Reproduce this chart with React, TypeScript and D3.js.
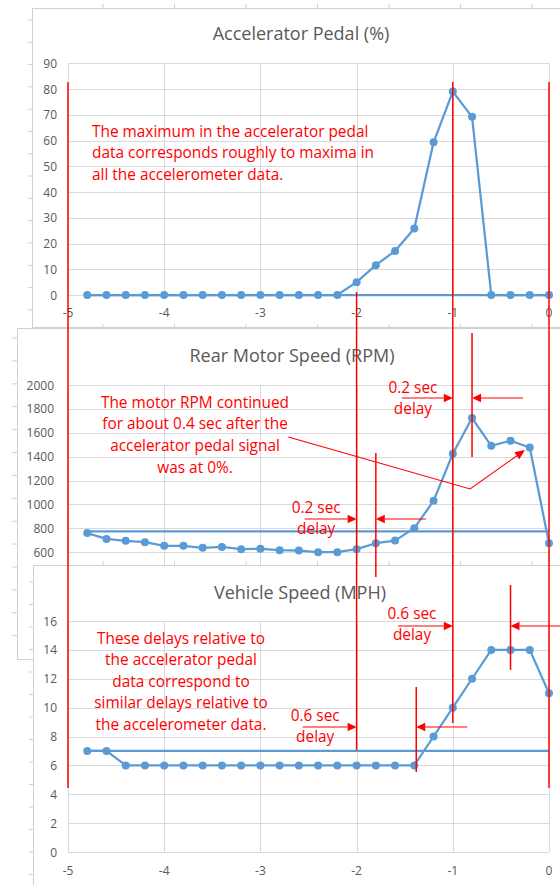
import React from 'react';
import * as d3 from 'd3';

// ---------- data ----------
const times = [-4.8, -4.6, -4.4, -4.2, -4.0, -3.8, -3.6, -3.4, -3.2, -3.0, -2.8, -2.6, -2.4, -2.2, -2.0, -1.8, -1.6, -1.4, -1.2, -1.0, -0.8, -0.6, -0.4, -0.2, 0];
const pedalValues = [0, 0, 0, 0, 0, 0, 0, 0, 0, 0, 0, 0, 0, 0, 5, 11.6, 17.1, 25.8, 59.3, 79, 69.2, 0, 0, 0, 0];
const rpmValues = [760, 711, 695, 684, 653, 653, 636, 644, 625, 628, 617, 613, 600, 600, 625, 675, 697, 801, 1030, 1424, 1723, 1491, 1533, 1477, 675];
const mphValues = [7, 7, 6, 6, 6, 6, 6, 6, 6, 6, 6, 6, 6, 6, 6, 6, 6, 6, 8, 10, 12, 14, 14, 14, 11];
const pedalReference = 0;
const rpmReference = 775;
const mphReference = 7;

const xTickValues = [-5, -4, -3, -2, -1, 0];
const pedalTicks = [0, 10, 20, 30, 40, 50, 60, 70, 80, 90];
const rpmTicks = [0, 200, 400, 600, 800, 1000, 1200, 1400, 1600, 1800, 2000];
const rpmLabelTicks = [600, 800, 1000, 1200, 1400, 1600, 1800, 2000];
const mphTicks = [0, 2, 4, 6, 8, 10, 12, 14, 16];

const titles = ['Accelerator Pedal (%)', 'Rear Motor Speed (RPM)', 'Vehicle Speed (MPH)'];
const note1 = ['The maximum in the accelerator pedal', 'data corresponds roughly to maxima in', 'all the accelerometer data.'];
const note2 = ['The motor RPM continued', 'for about 0.4 sec after the', 'accelerator pedal signal', 'was at 0%.'];
const note3 = ['These delays relative to', 'the accelerator pedal', 'data correspond to', 'similar delays relative to', 'the accelerometer data.'];

// annotation markers (time in seconds)
const markerLines = [
  { t: -5, y1: 82, y2: 788 },
  { t: -2, y1: 292, y2: 750 },
  { t: -1, y1: 82, y2: 723 },
  { t: 0, y1: 82, y2: 788 },
  { t: -0.8, y1: 333, y2: 457 },
  { t: -1.8, y1: 453, y2: 577 },
  { t: -1.38, y1: 687, y2: 772 },
  { t: -0.4, y1: 585, y2: 670 },
];
const delayArrows = [
  { from: -1.53, to: -1, y: 398 },
  { from: -0.27, to: -0.8, y: 398 },
  { from: -2.54, to: -2, y: 519 },
  { from: -1.28, to: -1.8, y: 519 },
  { from: -1.57, to: -1, y: 626 },
  { from: 0.14, to: -0.4, y: 626 },
  { from: -2.56, to: -2, y: 727 },
  { from: -0.85, to: -1.38, y: 727 },
];
const delayLabels = [
  { t: -1.414, y: 387, a: '0.2 sec', b: 'delay' },
  { t: -2.42, y: 507, a: '0.2 sec', b: 'delay' },
  { t: -1.424, y: 613, a: '0.6 sec', b: 'delay' },
  { t: -2.43, y: 715, a: '0.6 sec', b: 'delay' },
];
const callout = [
  { t: -2.71, y: 437 },
  { t: -0.82, y: 489 },
  { t: -0.25, y: 450 },
];

// ---------- style ----------
const BLUE = '#5b9bd5';
const GRID = '#d9d9d9';
const FRAME = '#d0d0d0';
const TEXT = '#595959';
const RED = '#ff0000';
const FONT = "'Open Sans', 'Noto Sans', sans-serif";

const x = d3.scaleLinear().domain([-5, 0]).range([68, 549]);

function Frame({ left, top, bottom, tickStart, tickStep, tickLen }: any) {
  const leftTicks = d3.range(14).map((k) => tickStart + k * tickStep);
  const topTicks = d3.range(7).map((k) => 103 + k * 71.5);
  return (
    <g>
      <rect x={left + 0.5} y={top + 0.5} width={620} height={bottom - top} fill="#fff" stroke={FRAME} strokeWidth={1} />
      {leftTicks.map((ty, i) => (
        <line key={'l' + i} x1={left - tickLen} x2={left + 0.5} y1={ty} y2={ty} stroke={FRAME} />
      ))}
      {topTicks.map((tx, i) => (
        <line key={'t' + i} x1={tx} x2={tx} y1={top - 4} y2={top + 0.5} stroke={FRAME} />
      ))}
    </g>
  );
}

function Chart({ y, ticks, labelTicks, values, reference, title, titleX, titleY, labelRight, xLabelY }: any) {
  const [dMin, dMax] = y.domain();
  const top = y(dMax);
  const bottom = y(dMin);
  const line = d3
    .line<number>()
    .x((_, i) => x(times[i]))
    .y((d) => y(d));
  const refLine = d3
    .line<number>()
    .x((d) => x(d))
    .y(() => y(reference));
  return (
    <g>
      <text x={titleX} y={titleY} textAnchor="middle" dominantBaseline="central" fontFamily={FONT} fontSize={18} fill={TEXT}>
        {title}
      </text>
      {ticks.map((v: number) => (
        <line key={'h' + v} x1={x(-5)} x2={x(0)} y1={Math.round(y(v)) + 0.5} y2={Math.round(y(v)) + 0.5} stroke={GRID} strokeWidth={1} />
      ))}
      {xTickValues.map((v) => (
        <line key={'v' + v} x1={Math.round(x(v)) + 0.5} x2={Math.round(x(v)) + 0.5} y1={top} y2={bottom} stroke={GRID} strokeWidth={1} />
      ))}
      {(labelTicks || ticks).map((v: number) => (
        <text key={'yl' + v} x={labelRight} y={y(v)} textAnchor="end" dominantBaseline="central" fontFamily={FONT} fontSize={12} fill={TEXT}>
          {v}
        </text>
      ))}
      {xLabelY != null &&
        xTickValues.map((v) => (
          <text key={'xl' + v} x={x(v)} y={xLabelY} textAnchor="middle" dominantBaseline="central" fontFamily={FONT} fontSize={12} fill={TEXT}>
            {v}
          </text>
        ))}
      <path d={refLine([times[0], times[times.length - 1]]) || ''} fill="none" stroke={BLUE} strokeWidth={2.25} />
      <path d={line(values) || ''} fill="none" stroke={BLUE} strokeWidth={2.25} strokeLinejoin="round" />
      {values.map((v: number, i: number) => (
        <circle key={'m' + i} cx={x(times[i])} cy={y(v)} r={4} fill={BLUE} />
      ))}
    </g>
  );
}

function Arrow({ x1, x2, y }: any) {
  const dir = x2 > x1 ? 1 : -1;
  const len = 9;
  const hw = 4.2;
  const tip = x2;
  const base = x2 - dir * len;
  return (
    <g>
      <line x1={x1} x2={base} y1={y} y2={y} stroke={RED} strokeWidth={1.2} />
      <polygon points={`${tip},${y} ${base},${y - hw} ${base},${y + hw}`} fill={RED} />
    </g>
  );
}

export default function App() {
  const yPedal = d3.scaleLinear().domain([0, 90]).range([295, 63.3]);
  const yRpm = d3.scaleLinear().domain([0, 2000]).range([623.8, 385]);
  const yMph = d3.scaleLinear().domain([0, 16]).range([852, 621]);

  const last = callout[callout.length - 1];
  const prev = callout[callout.length - 2];
  const ang = Math.atan2(last.y - prev.y, x(last.t) - x(prev.t));
  const tipX = x(last.t);
  const tipY = last.y;
  const hl = 10;
  const hw = 4.2;
  const bx = tipX - hl * Math.cos(ang);
  const by = tipY - hl * Math.sin(ang);
  const px = -Math.sin(ang) * hw;
  const py = Math.cos(ang) * hw;

  return (
    <svg width={560} height={885} style={{ position: 'absolute', left: 0, top: 0, background: '#fff' }} xmlns="http://www.w3.org/2000/svg">
      <rect x={0} y={0} width={560} height={885} fill="#fff" />

      {/* chart 1 */}
      <Frame left={32} top={8} bottom={327} tickStart={20} tickStep={22.3} tickLen={4} />
      <Chart y={yPedal} ticks={pedalTicks} values={pedalValues} reference={pedalReference} title={titles[0]} titleX={301} titleY={33} labelRight={57} xLabelY={312} />

      {/* chart 2 */}
      <Frame left={17} top={328} bottom={659} tickStart={338} tickStep={22.9} tickLen={5} />
      <Chart y={yRpm} ticks={rpmTicks} labelTicks={rpmLabelTicks} values={rpmValues} reference={rpmReference} title={titles[1]} titleX={292} titleY={355} labelRight={54} />

      {/* chart 3 */}
      <Frame left={33} top={565} bottom={900} tickStart={582} tickStep={22.5} tickLen={4} />
      <Chart y={yMph} ticks={mphTicks} values={mphValues} reference={mphReference} title={titles[2]} titleX={300} titleY={592} labelRight={57} xLabelY={870} />

      {/* annotations */}
      <g fontFamily={FONT} fontSize={15.4} fill={RED}>
        {note1.map((s, i) => (
          <text key={'n1' + i} x={92} y={131 + i * 21.6} dominantBaseline="central">
            {s}
          </text>
        ))}
        {note2.map((s, i) => (
          <text key={'n2' + i} x={195} y={402 + i * 21.7} textAnchor="middle" dominantBaseline="central">
            {s}
          </text>
        ))}
        {note3.map((s, i) => (
          <text key={'n3' + i} x={181} y={638 + i * 21.6} textAnchor="middle" dominantBaseline="central">
            {s}
          </text>
        ))}
        {delayLabels.map((d, i) => (
          <g key={'dl' + i}>
            <text x={x(d.t)} y={d.y} textAnchor="middle" dominantBaseline="central">
              {d.a}
            </text>
            <text x={x(d.t)} y={d.y + 21} textAnchor="middle" dominantBaseline="central">
              {d.b}
            </text>
          </g>
        ))}
      </g>
      {markerLines.map((m, i) => (
        <line key={'ml' + i} x1={x(m.t)} x2={x(m.t)} y1={m.y1} y2={m.y2} stroke={RED} strokeWidth={1.5} />
      ))}
      {delayArrows.map((a, i) => (
        <Arrow key={'da' + i} x1={x(a.from)} x2={x(a.to)} y={a.y} />
      ))}
      <polyline
        points={[...callout.slice(0, -1).map((p) => `${x(p.t)},${p.y}`), `${bx},${by}`].join(' ')}
        fill="none"
        stroke={RED}
        strokeWidth={1.1}
      />
      <polygon points={`${tipX},${tipY} ${bx + px},${by + py} ${bx - px},${by - py}`} fill={RED} />
    </svg>
  );
}
